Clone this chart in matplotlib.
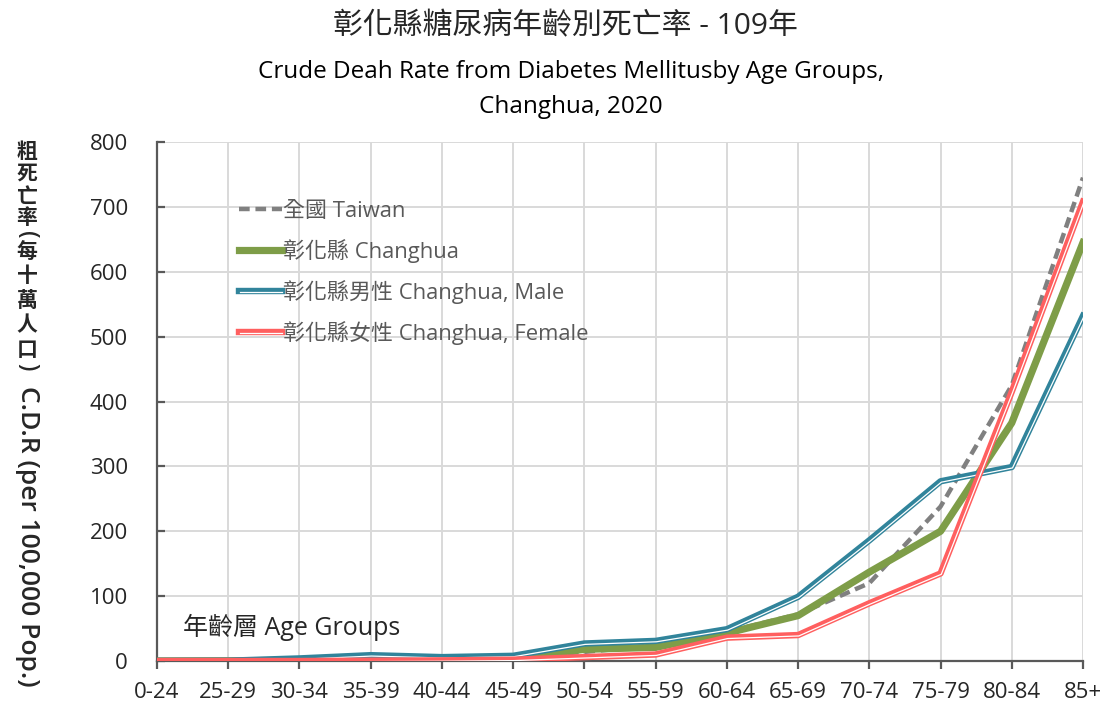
import matplotlib
matplotlib.use("Agg")
import matplotlib.pyplot as plt
import matplotlib.patheffects as pe

plt.rcParams['font.family'] = ['Open Sans', 'Noto Sans CJK TC', 'DejaVu Sans']

age_groups = ["0-24", "25-29", "30-34", "35-39", "40-44", "45-49", "50-54",
              "55-59", "60-64", "65-69", "70-74", "75-79", "80-84", "85+"]
taiwan = [0.1, 0.3, 1, 2, 3.5, 6, 14, 24, 45, 72, 120, 238, 425, 745]
changhua = [0.1, 0.3, 1, 4, 3, 5, 18, 21, 43, 70, 137, 200, 367, 645]
male = [0.2, 0.5, 4, 9, 6, 8, 27, 31, 49, 99, 186, 277, 299, 532]
female = [0, 0, 0, 0.5, 1, 2, 6, 10, 36, 40, 89, 135, 415, 708]

y_ticks = [0, 100, 200, 300, 400, 500, 600, 700, 800]

W, H = 1104, 705
fig = plt.figure(figsize=(W / 100, H / 100), dpi=100)
ax = fig.add_axes([157 / W, 1 - 661 / H, (1083 - 157) / W, (661 - 142) / H])

x = list(range(len(age_groups)))

c_tw = '#808080'
c_ch = '#7E9D48'
c_m = '#31849B'
c_f = '#FF5F5F'

ax.plot(x, taiwan, color=c_tw, lw=3.2, dashes=(2.4, 1.3), label='全國 Taiwan', zorder=3)
ax.plot(x, changhua, color=c_ch, lw=5.2, label='彰化縣 Changhua', zorder=4)


def compound(color):
    return [pe.Stroke(linewidth=4.6, foreground=color),
            pe.Stroke(linewidth=0.9, foreground='white', offset=(0.55, -0.65))]


lm, = ax.plot(x, male, color=c_m, lw=4.6, label='彰化縣男性 Changhua, Male', zorder=5)
lm.set_path_effects(compound(c_m))
lf, = ax.plot(x, female, color=c_f, lw=4.6, label='彰化縣女性 Changhua, Female', zorder=6)
lf.set_path_effects(compound(c_f))

ax.set_xlim(0, len(age_groups) - 1)
ax.set_ylim(0, 800)
ax.set_xticks(x)
ax.set_xticklabels(age_groups)
ax.set_yticks(y_ticks)
ax.grid(True, color='#D9D9D9', lw=1.4)
ax.set_axisbelow(True)
for s in ['top', 'right']:
    ax.spines[s].set_visible(False)
for s in ['left', 'bottom']:
    ax.spines[s].set_color('#595959')
    ax.spines[s].set_linewidth(1.6)
ax.tick_params(axis='x', direction='out', length=6, width=1.6, color='#595959',
               labelsize=16, labelcolor='#262626', pad=9)
ax.tick_params(axis='y', direction='in', length=6, width=1.6, color='#595959',
               labelsize=16, labelcolor='#262626', pad=21)

leg = ax.legend(loc='upper left', bbox_to_anchor=(0.079, 0.904), frameon=False,
                fontsize=15.8, labelcolor='#595959', handlelength=1.95,
                handletextpad=0.05, labelspacing=0.78, borderaxespad=0)

fig.text(183 / W, 1 - 627 / H, '年齡層 Age Groups', fontsize=18,
         color='#262626', va='center', ha='left')

fig.text(0.5 * (333 + 798) / W, 1 - 27 / H, '彰化縣糖尿病年齡別死亡率 - 109年',
         fontsize=21.5, color='#262626', ha='center', va='center')
fig.text(0.5 * (254 + 887) / W, 1 - 72 / H,
         'Crude Deah Rate from Diabetes Mellitusby Age Groups,',
         fontsize=17.5, color='#000000', ha='center', va='center')
fig.text(0.5 * (254 + 887) / W, 1 - 107 / H, 'Changhua, 2020',
         fontsize=17.5, color='#000000', ha='center', va='center')

# y label: upright CJK characters, rotated Latin text
xl = 27 / W
ylab_col = '#262626'
for ch, yy in [('粗', 152), ('死', 174), ('亡', 197), ('率', 218),
               ('每', 252), ('十', 277), ('萬', 301), ('人', 326), ('口', 350)]:
    fig.text(xl, 1 - yy / H, ch, fontsize=15, fontweight='bold',
             color=ylab_col, ha='center', va='center')
fig.text(xl, 1 - 235 / H, '(', fontsize=17, rotation=270, fontweight='semibold',
         color=ylab_col, ha='center', va='center')
fig.text(xl, 1 - 367 / H, ')', fontsize=17, rotation=270, fontweight='semibold',
         color=ylab_col, ha='center', va='center')
fig.text(xl, 1 - 386 / H, 'C.D.R (per 100,000 Pop.)', fontsize=19,
         rotation=270, fontweight='semibold', color=ylab_col, ha='center', va='top')

fig.savefig('out.png', dpi=100)
